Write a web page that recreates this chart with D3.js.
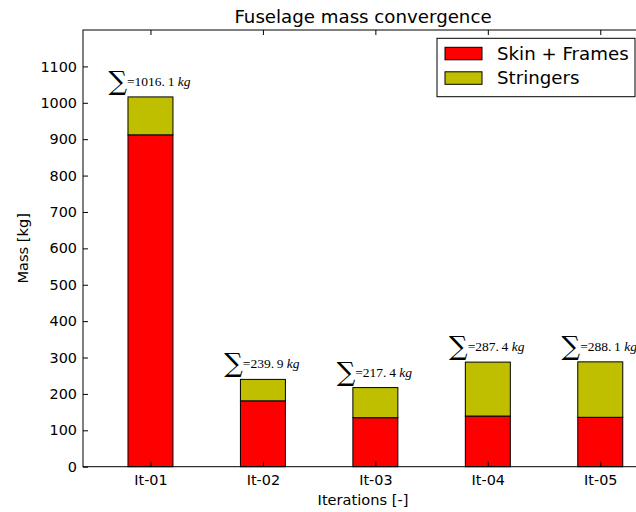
<!DOCTYPE html>
<html>
<head>
<meta charset="utf-8">
<script src="https://cdn.jsdelivr.net/npm/d3@7"></script>
<style>
  body { margin: 0; background: #fff; }
  svg { font-family: "DejaVu Sans", sans-serif; }
</style>
</head>
<body>
<div id="chart"></div>
<script>
// data
const iterations = ["It-01", "It-02", "It-03", "It-04", "It-05"];
const skinFrames = [911.9, 181.0, 134.6, 139.2, 135.7];
const stringers  = [104.2, 58.9, 82.8, 148.2, 152.4];
const yTicks = [0, 100, 200, 300, 400, 500, 600, 700, 800, 900, 1000, 1100];
const seriesNames = ["Skin + Frames", "Stringers"];
const seriesColors = ["#ff0000", "#bfbf00"];

const W = 636, H = 512;
const margin = {top: 30, right: -7, bottom: 45.3, left: 83};
const width = W - margin.left - margin.right;
const height = H - margin.top - margin.bottom;

const svg = d3.select("#chart").append("svg")
    .attr("width", W)
    .attr("height", H);

const g = svg.append("g")
    .attr("transform", "translate(" + margin.left + "," + margin.top + ")");

const x = d3.scaleLinear()
    .domain([-0.6, 4.38])
    .range([0, width]);

const y = d3.scaleLinear()
    .domain([0, 1200])
    .range([height, 0]);

const barW = x(0.4) - x(0);

// stacked data
const rows = iterations.map(function(it, i) {
    return {it: it, i: i, skin: skinFrames[i], str: stringers[i], total: skinFrames[i] + stringers[i]};
});

// skin + frames
g.selectAll(".bar-skin")
    .data(rows)
    .enter().append("rect")
    .attr("class", "bar-skin")
    .attr("x", d => x(d.i) - barW / 2)
    .attr("y", d => y(d.skin))
    .attr("width", barW)
    .attr("height", d => y(0) - y(d.skin))
    .attr("fill", seriesColors[0])
    .attr("stroke", "#000")
    .attr("stroke-width", 1);

// stringers on top
g.selectAll(".bar-str")
    .data(rows)
    .enter().append("rect")
    .attr("class", "bar-str")
    .attr("x", d => x(d.i) - barW / 2)
    .attr("y", d => y(d.total))
    .attr("width", barW)
    .attr("height", d => y(d.skin) - y(d.total))
    .attr("fill", seriesColors[1])
    .attr("stroke", "#000")
    .attr("stroke-width", 1);

// sum labels
const lab = g.selectAll(".sum")
    .data(rows)
    .enter().append("text")
    .attr("class", "sum")
    .attr("x", d => x(d.i) - 1)
    .attr("y", d => y(d.total) - 11)
    .attr("text-anchor", "middle")
    .attr("fill", "#000");

lab.append("tspan")
    .attr("font-family", "DejaVu Serif")
    .attr("font-size", 26)
    .attr("dy", 4)
    .text("\u2211");
lab.append("tspan")
    .attr("font-family", "Liberation Serif")
    .attr("font-size", 13.5)
    .attr("dy", -4)
    .text(d => {
        const s = d.total.toFixed(1).split(".");
        return "=" + s[0] + ".\u2009" + s[1] + "\u00a0";
    });
lab.append("tspan")
    .attr("font-family", "Liberation Serif")
    .attr("font-style", "italic")
    .attr("font-size", 13.5)
    .text("kg");

// axes
const yAxis = d3.axisLeft(y).tickValues(yTicks).tickFormat(d3.format("d"))
    .tickSize(-5).tickPadding(6);
const xAxis = d3.axisBottom(x).tickValues(d3.range(iterations.length))
    .tickFormat(i => iterations[i]).tickSize(-5).tickPadding(8);
const xTop = d3.axisTop(x).tickValues(d3.range(iterations.length))
    .tickFormat("").tickSize(-5);

g.append("g").attr("class", "y-axis").call(yAxis);
g.append("g").attr("class", "x-axis")
    .attr("transform", "translate(0," + height + ")")
    .call(xAxis);
g.append("g").attr("class", "x-top").call(xTop);

g.selectAll(".domain").remove();
g.selectAll(".tick line").attr("stroke", "#000");
g.selectAll(".tick text")
    .attr("font-family", "DejaVu Sans")
    .attr("font-size", 14.4)
    .attr("fill", "#000");

// frame
g.append("rect")
    .attr("x", 0).attr("y", 0)
    .attr("width", width).attr("height", height)
    .attr("fill", "none")
    .attr("stroke", "#000")
    .attr("stroke-width", 1);

// title and labels
svg.append("text")
    .attr("x", margin.left + width / 2)
    .attr("y", 23)
    .attr("text-anchor", "middle")
    .attr("font-size", 18.2)
    .text("Fuselage mass convergence");

svg.append("text")
    .attr("x", margin.left + width / 2)
    .attr("y", 505)
    .attr("text-anchor", "middle")
    .attr("font-size", 14.6)
    .text("Iterations [-]");

svg.append("text")
    .attr("transform", "translate(28," + (margin.top + height / 2) + ") rotate(-90)")
    .attr("text-anchor", "middle")
    .attr("font-size", 14.6)
    .text("Mass [kg]");

// legend
const leg = g.append("g")
    .attr("transform", "translate(" + (width - 206) + ",8.3)");

leg.append("rect")
    .attr("width", 198).attr("height", 58.4)
    .attr("fill", "#fff")
    .attr("stroke", "#000")
    .attr("stroke-width", 1);

const item = leg.selectAll(".item")
    .data(seriesNames)
    .enter().append("g")
    .attr("transform", (d, i) => "translate(8," + (9 + i * 24.5) + ")");

item.append("rect")
    .attr("width", 37).attr("height", 12.5)
    .attr("fill", (d, i) => seriesColors[i])
    .attr("stroke", "#000")
    .attr("stroke-width", 1);

item.append("text")
    .attr("x", 52)
    .attr("y", 12.5)
    .attr("font-size", 18.2)
    .text(d => d);
</script>
</body>
</html>
